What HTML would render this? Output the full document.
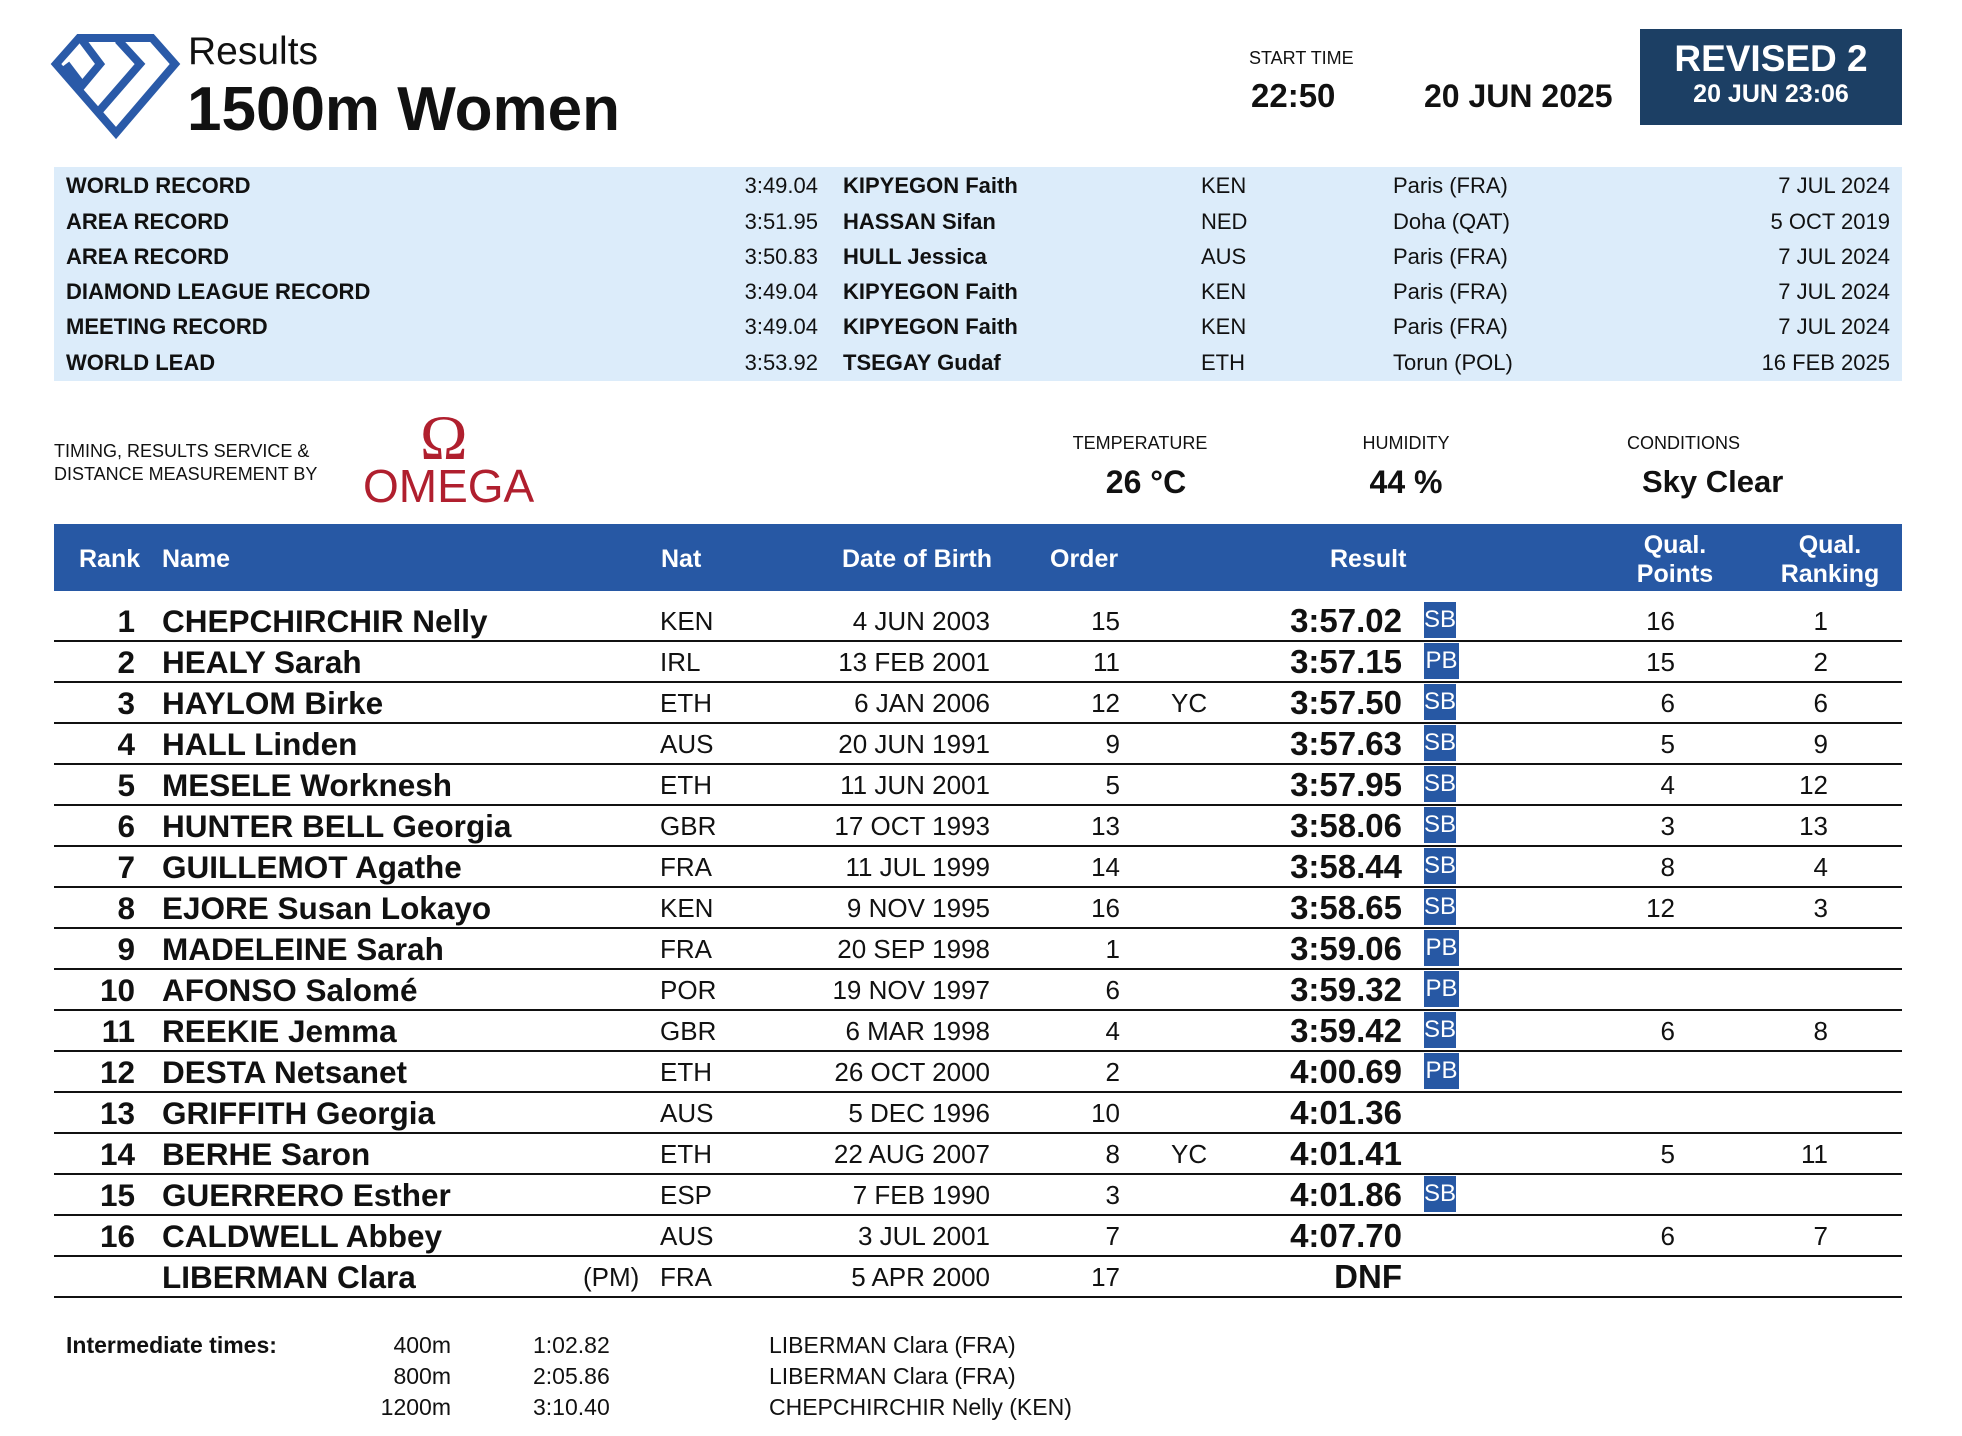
<!DOCTYPE html>
<html><head><meta charset="utf-8"><style>
*{margin:0;padding:0;box-sizing:border-box}
body{width:1962px;height:1436px;background:#fff;position:relative;overflow:hidden;font-family:"Liberation Sans",Arial,sans-serif;color:#111}
.a{position:absolute;white-space:nowrap}
.r{text-align:right}
.c{text-align:center}
.b{font-weight:bold}
.rec{font-size:22px;height:30px;line-height:30px}
.row{font-size:26px;height:40px;line-height:40px}
.nm{font-size:31.5px;font-weight:bold;height:40px;line-height:40px}
.res{font-size:33px;font-weight:bold;height:40px;line-height:40px}
.bd{position:absolute;background:#2758a4;color:#fff;font-size:24px;height:36px;line-height:36px;text-align:center}
.sep{position:absolute;left:54px;width:1848px;height:2px;background:#111}
.hd{color:#fff;font-weight:bold;font-size:25px;line-height:29px}
.it{font-size:23px;line-height:28px}
</style></head><body>
<svg class="a" style="left:0;top:0" width="200" height="150">
<g fill="none" stroke="#2a5aa8" stroke-width="8" stroke-linejoin="miter">
<polygon points="56,64 79,38 152,38 175,64 116,133"/>
<polyline points="82,40 100,64 80,88"/>
<polyline points="118,40 140,64 100,110"/>
<polyline points="66,64 82,85"/>
</g></svg>
<div class="a" style="left:188px;top:29px;font-size:39px;line-height:46px">Results</div>
<div class="a b" style="left:187px;top:74px;font-size:62px;line-height:72px">1500m Women</div>
<div class="a" style="left:1249px;top:47px;font-size:18px;line-height:22px">START TIME</div>
<div class="a b" style="left:1251px;top:76px;font-size:33px;line-height:40px">22:50</div>
<div class="a b" style="left:1424px;top:76px;font-size:32px;line-height:40px">20 JUN 2025</div>
<div class="a" style="left:1640px;top:29px;width:262px;height:96px;background:#1c3f64;color:#fff;text-align:center">
<div class="b" style="font-size:37px;line-height:40px;margin-top:10px">REVISED 2</div>
<div class="b" style="font-size:25px;line-height:30px">20 JUN 23:06</div></div>

<div class="a" style="left:54px;top:167px;width:1848px;height:214px;background:#dcecfa"></div>
<div class="a rec b" style="left:66px;top:171px">WORLD RECORD</div>
<div class="a rec b" style="left:66px;top:207px">AREA RECORD</div>
<div class="a rec b" style="left:66px;top:242px">AREA RECORD</div>
<div class="a rec b" style="left:66px;top:277px">DIAMOND LEAGUE RECORD</div>
<div class="a rec b" style="left:66px;top:312px">MEETING RECORD</div>
<div class="a rec b" style="left:66px;top:348px">WORLD LEAD</div>
<div class="a rec r" style="left:700px;width:118px;top:171px">3:49.04</div>
<div class="a rec r" style="left:700px;width:118px;top:207px">3:51.95</div>
<div class="a rec r" style="left:700px;width:118px;top:242px">3:50.83</div>
<div class="a rec r" style="left:700px;width:118px;top:277px">3:49.04</div>
<div class="a rec r" style="left:700px;width:118px;top:312px">3:49.04</div>
<div class="a rec r" style="left:700px;width:118px;top:348px">3:53.92</div>
<div class="a rec b" style="left:843px;top:171px">KIPYEGON Faith</div>
<div class="a rec b" style="left:843px;top:207px">HASSAN Sifan</div>
<div class="a rec b" style="left:843px;top:242px">HULL Jessica</div>
<div class="a rec b" style="left:843px;top:277px">KIPYEGON Faith</div>
<div class="a rec b" style="left:843px;top:312px">KIPYEGON Faith</div>
<div class="a rec b" style="left:843px;top:348px">TSEGAY Gudaf</div>
<div class="a rec" style="left:1201px;top:171px">KEN</div>
<div class="a rec" style="left:1201px;top:207px">NED</div>
<div class="a rec" style="left:1201px;top:242px">AUS</div>
<div class="a rec" style="left:1201px;top:277px">KEN</div>
<div class="a rec" style="left:1201px;top:312px">KEN</div>
<div class="a rec" style="left:1201px;top:348px">ETH</div>
<div class="a rec" style="left:1393px;top:171px">Paris (FRA)</div>
<div class="a rec" style="left:1393px;top:207px">Doha (QAT)</div>
<div class="a rec" style="left:1393px;top:242px">Paris (FRA)</div>
<div class="a rec" style="left:1393px;top:277px">Paris (FRA)</div>
<div class="a rec" style="left:1393px;top:312px">Paris (FRA)</div>
<div class="a rec" style="left:1393px;top:348px">Torun (POL)</div>
<div class="a rec r" style="left:1690px;width:200px;top:171px">7 JUL 2024</div>
<div class="a rec r" style="left:1690px;width:200px;top:207px">5 OCT 2019</div>
<div class="a rec r" style="left:1690px;width:200px;top:242px">7 JUL 2024</div>
<div class="a rec r" style="left:1690px;width:200px;top:277px">7 JUL 2024</div>
<div class="a rec r" style="left:1690px;width:200px;top:312px">7 JUL 2024</div>
<div class="a rec r" style="left:1690px;width:200px;top:348px">16 FEB 2025</div>

<div class="a" style="left:54px;top:440px;font-size:18px;line-height:23px">TIMING, RESULTS SERVICE &amp;<br>DISTANCE MEASUREMENT BY</div>
<div class="a" style="left:420px;top:404px;font-size:64px;line-height:68px;color:#b01f2e;font-family:'Liberation Serif',serif">&Omega;</div>
<div class="a" style="left:363px;top:460px;font-size:46px;line-height:52px;color:#b01f2e">OMEGA</div>

<div class="a c" style="left:1040px;width:200px;top:432px;font-size:18px;line-height:22px">TEMPERATURE</div>
<div class="a c b" style="left:1046px;width:200px;top:462px;font-size:32px;line-height:40px">26 °C</div>
<div class="a c" style="left:1306px;width:200px;top:432px;font-size:18px;line-height:22px">HUMIDITY</div>
<div class="a c b" style="left:1306px;width:200px;top:462px;font-size:32px;line-height:40px">44 %</div>
<div class="a" style="left:1627px;top:432px;font-size:18px;line-height:22px">CONDITIONS</div>
<div class="a b" style="left:1642px;top:462px;font-size:31px;line-height:40px">Sky Clear</div>

<div class="a" style="left:54px;top:524px;width:1848px;height:67px;background:#2758a4"></div>
<div class="a hd" style="left:79px;top:545px">Rank</div>
<div class="a hd" style="left:162px;top:545px">Name</div>
<div class="a hd" style="left:661px;top:545px">Nat</div>
<div class="a hd r" style="left:790px;width:202px;top:545px">Date of Birth</div>
<div class="a hd" style="left:1050px;top:545px">Order</div>
<div class="a hd" style="left:1330px;top:545px">Result</div>
<div class="a hd c" style="left:1600px;width:150px;top:531px">Qual.<br>Points</div>
<div class="a hd c" style="left:1750px;width:160px;top:531px">Qual.<br>Ranking</div>

<div id="rows"></div>
<script>
var d=[["1","CHEPCHIRCHIR Nelly","KEN","4 JUN 2003","15","","3:57.02","SB","16","1"],
["2","HEALY Sarah","IRL","13 FEB 2001","11","","3:57.15","PB","15","2"],
["3","HAYLOM Birke","ETH","6 JAN 2006","12","YC","3:57.50","SB","6","6"],
["4","HALL Linden","AUS","20 JUN 1991","9","","3:57.63","SB","5","9"],
["5","MESELE Worknesh","ETH","11 JUN 2001","5","","3:57.95","SB","4","12"],
["6","HUNTER BELL Georgia","GBR","17 OCT 1993","13","","3:58.06","SB","3","13"],
["7","GUILLEMOT Agathe","FRA","11 JUL 1999","14","","3:58.44","SB","8","4"],
["8","EJORE Susan Lokayo","KEN","9 NOV 1995","16","","3:58.65","SB","12","3"],
["9","MADELEINE Sarah","FRA","20 SEP 1998","1","","3:59.06","PB","",""],
["10","AFONSO Salomé","POR","19 NOV 1997","6","","3:59.32","PB","",""],
["11","REEKIE Jemma","GBR","6 MAR 1998","4","","3:59.42","SB","6","8"],
["12","DESTA Netsanet","ETH","26 OCT 2000","2","","4:00.69","PB","",""],
["13","GRIFFITH Georgia","AUS","5 DEC 1996","10","","4:01.36","","",""],
["14","BERHE Saron","ETH","22 AUG 2007","8","YC","4:01.41","","5","11"],
["15","GUERRERO Esther","ESP","7 FEB 1990","3","","4:01.86","SB","",""],
["16","CALDWELL Abbey","AUS","3 JUL 2001","7","","4:07.70","","6","7"],
["","LIBERMAN Clara","FRA","5 APR 2000","17","","DNF","","",""]];
var h="";
d.forEach(function(r,i){var c=621+41*i,t=c-20;
h+='<div class="a nm r" style="left:40px;width:95px;top:'+t+'px">'+r[0]+'</div>';
h+='<div class="a nm" style="left:162px;top:'+t+'px">'+r[1]+'</div>';
if(i==16)h+='<div class="a row" style="left:583px;top:'+t+'px">(PM)</div>';
h+='<div class="a row" style="left:660px;top:'+t+'px">'+r[2]+'</div>';
h+='<div class="a row r" style="left:790px;width:200px;top:'+t+'px">'+r[3]+'</div>';
h+='<div class="a row r" style="left:1020px;width:100px;top:'+t+'px">'+r[4]+'</div>';
if(r[5])h+='<div class="a row" style="left:1171px;top:'+t+'px">'+r[5]+'</div>';
h+='<div class="a res r" style="left:1200px;width:202px;top:'+t+'px">'+r[6]+'</div>';
if(r[7])h+='<div class="bd" style="left:1424px;width:'+(r[7]=="PB"?35:32)+'px;top:'+(c-19)+'px">'+r[7]+'</div>';
h+='<div class="a row r" style="left:1575px;width:100px;top:'+t+'px">'+r[8]+'</div>';
h+='<div class="a row r" style="left:1728px;width:100px;top:'+t+'px">'+r[9]+'</div>';
h+='<div class="sep" style="top:'+(640+41*i)+'px"></div>';
});
document.getElementById("rows").innerHTML=h;
</script>
<div class="a b it" style="left:66px;top:1331px">Intermediate times:</div>
<div class="a r it" style="left:350px;width:101px;top:1331px">400m</div>
<div class="a r it" style="left:350px;width:101px;top:1362px">800m</div>
<div class="a r it" style="left:350px;width:101px;top:1393px">1200m</div>
<div class="a it" style="left:533px;top:1331px">1:02.82</div>
<div class="a it" style="left:533px;top:1362px">2:05.86</div>
<div class="a it" style="left:533px;top:1393px">3:10.40</div>
<div class="a it" style="left:769px;top:1331px">LIBERMAN Clara (FRA)</div>
<div class="a it" style="left:769px;top:1362px">LIBERMAN Clara (FRA)</div>
<div class="a it" style="left:769px;top:1393px">CHEPCHIRCHIR Nelly (KEN)</div>
</body></html>
